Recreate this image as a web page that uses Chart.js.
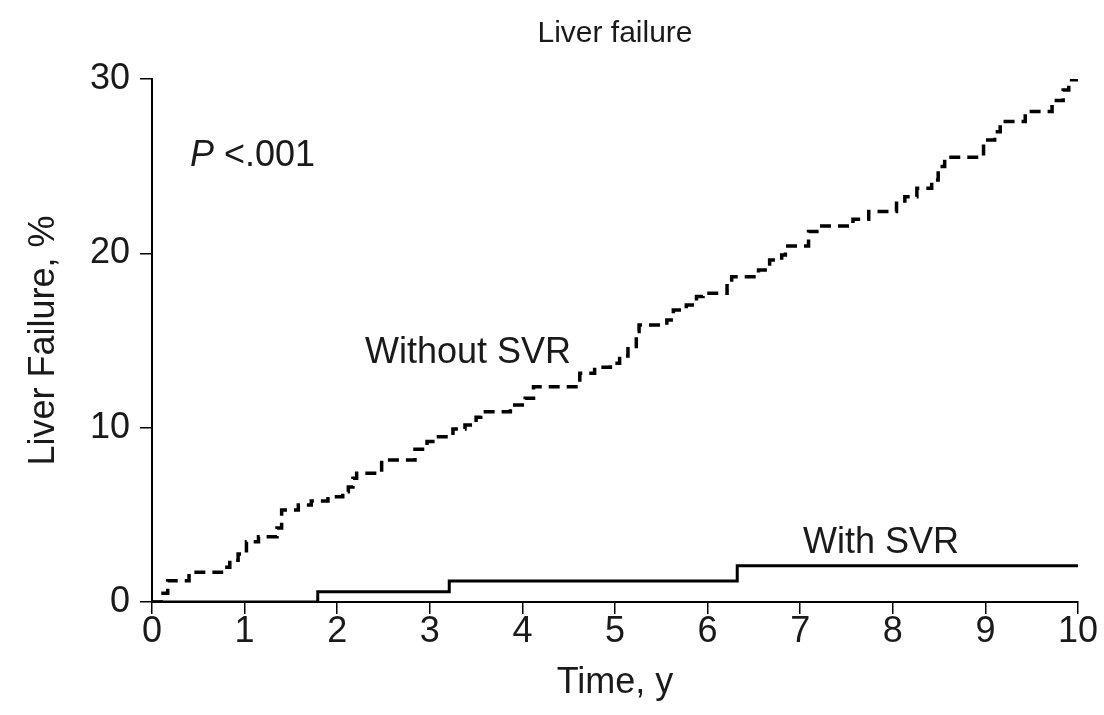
<!DOCTYPE html>
<html>
<head>
<meta charset="utf-8">
<script src="https://cdn.jsdelivr.net/npm/chart.js@4.4.0/dist/chart.umd.min.js"></script>
<style>
  html, body { margin: 0; padding: 0; background: #fff; }
  #wrap { width: 1104px; height: 715px; position: relative; }
</style>
</head>
<body>
<div id="wrap"><canvas id="kmChart"></canvas></div>
<script>
// Without SVR: step times (years) and cumulative liver failure (%)
const withoutSvrTime = [0, 0.10, 0.17, 0.40, 0.75, 0.84, 0.93, 1.02, 1.15, 1.35, 1.40, 1.58, 1.72, 1.90,
  2.06, 2.12, 2.17, 2.21, 2.48, 2.84, 2.97, 3.07, 3.25, 3.38, 3.50, 3.55, 3.87, 4.03, 4.12, 4.62, 4.78,
  4.95, 5.05, 5.14, 5.23, 5.26, 5.56, 5.63, 5.77, 5.88, 5.95, 6.21, 6.26, 6.55, 6.67, 6.80, 6.84, 7.09,
  7.18, 7.57, 7.74, 8.04, 8.13, 8.26, 8.42, 8.49, 8.56, 8.98, 9.10, 9.16, 9.43, 9.72, 9.84, 9.90, 10.0];
const withoutSvrPct = [0, 0.5, 1.22, 1.70, 2.0, 2.4, 2.75, 3.46, 3.75, 4.25, 5.28, 5.57, 5.80, 6.04,
  6.33, 6.6, 7.1, 7.38, 8.15, 8.76, 9.2, 9.48, 9.93, 10.15, 10.6, 10.92, 11.3, 11.69, 12.35, 13.12, 13.46,
  13.69, 14.11, 14.65, 15.51, 15.89, 16.18, 16.75, 17.04, 17.52, 17.71, 18.28, 18.66, 19.05, 19.62, 19.91, 20.42, 21.25,
  21.57, 21.96, 22.4, 22.87, 23.25, 23.73, 24.21, 24.98, 25.51, 26.5, 26.98, 27.56, 28.13, 28.76, 29.37, 29.95, 29.95];

// With SVR
const withSvrTime = [0, 1.79, 3.21, 6.32, 10.0];
const withSvrPct = [0, 0.59, 1.2, 2.08, 2.08];

const xTickValues = [0, 1, 2, 3, 4, 5, 6, 7, 8, 9, 10];
const yTickValues = [0, 10, 20, 30];

const FONT = "'Liberation Sans', Arial, Helvetica, sans-serif";
const ink = '#1a1a1a';

function toPoints(xs, ys) {
  return xs.map((x, i) => ({ x: x, y: ys[i] }));
}

// title + in-plot labels
const textLabels = {
  id: 'textLabels',
  afterDraw(chart) {
    const { ctx, chartArea, scales } = chart;
    const xs = scales.x, ys = scales.y;
    ctx.save();
    ctx.fillStyle = ink;
    ctx.textBaseline = 'middle';

    ctx.textAlign = 'center';
    ctx.font = '30px ' + FONT;
    ctx.fillText('Liver failure', (chartArea.left + chartArea.right) / 2, 34);

    ctx.textAlign = 'left';
    ctx.font = '36px ' + FONT;
    ctx.fillText('Without SVR', xs.getPixelForValue(2.30), ys.getPixelForValue(14.3));
    ctx.fillText('With SVR', xs.getPixelForValue(7.03), ys.getPixelForValue(3.4));

    const px = xs.getPixelForValue(0.41), py = ys.getPixelForValue(25.6);
    ctx.font = 'italic 36px ' + FONT;
    ctx.fillText('P', px, py);
    const w = ctx.measureText('P ').width;
    ctx.font = '36px ' + FONT;
    ctx.fillText('<.001', px + w, py);
    ctx.restore();
  }
};

new Chart(document.getElementById('kmChart'), {
  type: 'line',
  data: {
    datasets: [
      {
        label: 'Without SVR',
        data: toPoints(withoutSvrTime, withoutSvrPct),
        stepped: true,
        borderColor: '#000',
        borderWidth: 3.5,
        borderDash: [11, 7],
        pointRadius: 0,
        fill: false
      },
      {
        label: 'With SVR',
        data: toPoints(withSvrTime, withSvrPct),
        stepped: true,
        borderColor: '#000',
        borderWidth: 3,
        pointRadius: 0,
        fill: false
      }
    ]
  },
  options: {
    responsive: true,
    maintainAspectRatio: false,
    animation: false,
    layout: { padding: { top: 79, right: 26, left: 0, bottom: 0 } },
    plugins: {
      legend: { display: false },
      tooltip: { enabled: false },
      title: { display: false }
    },
    scales: {
      x: {
        type: 'linear',
        min: 0, max: 10,
        afterFit: (s) => { s.height = 113; },
        afterBuildTicks: (s) => { s.ticks = xTickValues.map(v => ({ value: v })); },
        border: { display: true, color: '#000', width: 2 },
        grid: { drawOnChartArea: false, drawTicks: true, tickLength: 12, color: '#000', lineWidth: 1.5 },
        ticks: { color: ink, padding: -4, maxRotation: 0, font: { family: FONT, size: 36 } },
        title: { display: true, text: 'Time, y', color: ink, padding: { top: 10, bottom: 10 }, font: { family: FONT, size: 36 } }
      },
      y: {
        min: 0, max: 30,
        afterFit: (s) => { s.width = 152; },
        afterBuildTicks: (s) => { s.ticks = yTickValues.map(v => ({ value: v })); },
        border: { display: true, color: '#000', width: 2 },
        grid: { drawOnChartArea: false, drawTicks: true, tickLength: 12, color: '#000', lineWidth: 1.5 },
        ticks: { color: ink, padding: 10, font: { family: FONT, size: 36 } },
        title: { display: true, text: 'Liver Failure, %', color: ink, padding: { top: 22, bottom: 22 }, font: { family: FONT, size: 36 } }
      }
    }
  },
  plugins: [textLabels]
});
</script>
</body>
</html>
